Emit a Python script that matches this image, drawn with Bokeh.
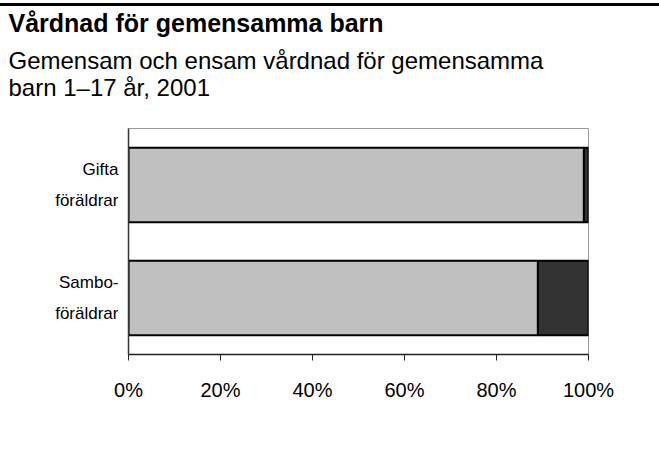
from bokeh.plotting import figure
from bokeh.models import (FactorRange, Range1d, FixedTicker, Legend, LegendItem,
                          ColumnDataSource, Title)
from bokeh.embed import file_html
from bokeh.resources import INLINE

# ---- data ----
title_text = "Vårdnad för gemensamma barn"
subtitle_lines = ["Gemensam och ensam vårdnad för gemensamma", "barn 1–17 år, 2001"]
categories = ["Gifta\nföräldrar", "Sambo-\nföräldrar"]
series_names = ["Gemensam", "Mor enbart"]
gemensam = [99, 89]
mor_enbart = [1, 11]
series_colors = ["#c0c0c0", "#333333"]
tick_values = [0, 20, 40, 60, 80, 100]
tick_labels = ["0%", "20%", "40%", "60%", "80%", "100%"]

FONT = "Liberation Sans"
ML, MR = 128, 71

p = figure(frame_width=460, frame_height=226,
           y_range=FactorRange(factors=list(reversed(categories))),
           x_range=Range1d(0, 100),
           output_backend="svg", toolbar_location=None,
           min_border_left=ML, min_border_right=MR,
           min_border_top=0, min_border_bottom=0)
p.styles = {"border-top": "3px solid black", "margin-top": "3px"}
p.background_fill_color = "white"
p.border_fill_color = "white"
p.outline_line_color = "#9a9a9a"
p.outline_line_width = 1
p.grid.visible = False

source = ColumnDataSource(data={
    "cat": categories,
    series_names[0]: gemensam,
    series_names[1]: mor_enbart,
})

renderers = p.hbar_stack(series_names, y="cat", height=0.66, color=series_colors,
                         source=source, line_color="black", line_width=2)

# x axis
p.xaxis.ticker = FixedTicker(ticks=tick_values)
p.xaxis.major_label_overrides = {v: t for v, t in zip(tick_values, tick_labels)}
p.xaxis.major_label_text_font = FONT
p.xaxis.major_label_text_font_size = "20px"
p.xaxis.major_label_text_color = "black"
p.xaxis.axis_line_color = "#222222"
p.xaxis.axis_line_width = 1.5
p.xaxis.major_tick_line_color = "#222222"
p.xaxis.major_tick_out = 6
p.xaxis.major_tick_in = 0
p.xaxis.minor_tick_line_color = None
p.xaxis.major_label_standoff = 18

# y axis (category labels)
p.yaxis.major_label_text_font = FONT
p.yaxis.major_label_text_font_size = "17px"
p.yaxis.major_label_text_color = "black"
p.yaxis.major_label_text_line_height = 1.6
p.yaxis.major_label_standoff = 10
p.yaxis.major_tick_line_color = None
p.yaxis.major_tick_out = 0
p.yaxis.major_tick_in = 0
p.yaxis.axis_line_color = "#333333"
p.yaxis.axis_line_width = 1.5

# legend below the x axis, anchored to the top of its panel
legend = Legend(items=[LegendItem(label=n, renderers=[r]) for n, r in zip(series_names, renderers)],
                orientation="horizontal", location="top_center",
                glyph_width=13, glyph_height=13, label_standoff=8, spacing=64,
                padding=0, margin=18, border_line_color=None, background_fill_alpha=0,
                label_text_font=FONT, label_text_font_size="21px", label_text_color="black")
p.add_layout(legend, "below")

# spacer above the frame, then subtitle and title
p.add_layout(Title(text=" ", text_font_size="10px", standoff=6), "above")
p.add_layout(Title(text="\n".join(subtitle_lines), align="left", offset=-(ML - 8),
                   text_font=FONT, text_font_size="24px", text_font_style="normal",
                   text_line_height=1.02, standoff=16, text_color="black"), "above")
p.add_layout(Title(text=title_text, align="left", offset=-(ML - 8),
                   text_font=FONT, text_font_size="25px", text_font_style="bold",
                   standoff=0, text_color="black"), "above")

open("out.html", "w").write(file_html(p, INLINE))
